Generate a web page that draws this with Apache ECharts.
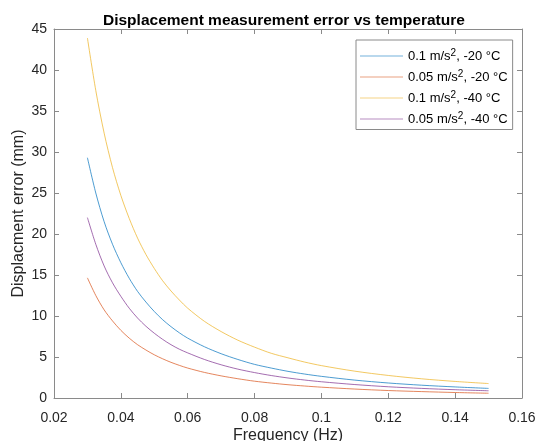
<!DOCTYPE html>
<html>
<head>
<meta charset="utf-8">
<script src="https://cdn.jsdelivr.net/npm/echarts@6/dist/echarts.min.js"></script>
<style>
html,body{margin:0;padding:0;background:#fff;}
#chart{width:536px;height:441px;}
</style>
</head>
<body>
<div id="chart"></div>
<script>
// Frequency (Hz)
const freq = [0.03, 0.0325, 0.035, 0.0375, 0.04, 0.0425, 0.045, 0.0475, 0.05, 0.0525, 0.055, 0.0575, 0.06,
              0.065, 0.07, 0.075, 0.08, 0.085, 0.09, 0.095, 0.10, 0.11, 0.12, 0.13, 0.14, 0.15];
// Displacement error (mm)
const blue20   = [29.3, 25.0, 21.5, 18.75, 16.5, 14.6, 13.0, 11.7, 10.55, 9.55, 8.7, 7.95, 7.3,
                  6.25, 5.4, 4.7, 4.1, 3.65, 3.25, 2.92, 2.64, 2.18, 1.83, 1.56, 1.35, 1.17];
const orange20 = [14.65, 12.5, 10.75, 9.4, 8.25, 7.3, 6.5, 5.85, 5.27, 4.78, 4.35, 3.98, 3.65,
                  3.12, 2.7, 2.35, 2.05, 1.82, 1.62, 1.46, 1.32, 1.09, 0.91, 0.78, 0.67, 0.58];
const yellow40 = [43.9, 37.5, 32.3, 28.1, 24.7, 21.9, 19.5, 17.5, 15.8, 14.3, 13.05, 11.95, 10.95,
                  9.35, 8.1, 7.05, 6.2, 5.45, 4.9, 4.38, 3.95, 3.27, 2.75, 2.34, 2.02, 1.76];
const purple40 = [22.0, 18.75, 16.1, 14.05, 12.4, 10.95, 9.75, 8.75, 7.9, 7.15, 6.5, 5.95, 5.5,
                  4.7, 4.05, 3.52, 3.1, 2.74, 2.44, 2.19, 1.98, 1.64, 1.37, 1.17, 1.01, 0.88];
const names = ['0.1 m/s², -20 °C', '0.05 m/s², -20 °C', '0.1 m/s², -40 °C', '0.05 m/s², -40 °C'];
const xTicks = [0.02, 0.04, 0.06, 0.08, 0.1, 0.12, 0.14, 0.16];
const yTicks = [0, 5, 10, 15, 20, 25, 30, 35, 40, 45];

const colors = ['#0072BD', '#D95319', '#EDB120', '#7E2F8E'];
const values = [blue20, orange20, yellow40, purple40];
const FONT = '"Liberation Sans", Arial, Helvetica, sans-serif';
const axisCol = '#8a8a8a';

const chart = echarts.init(document.getElementById('chart'), null, {renderer: 'canvas'});
const gridPos = {left: 54, right: 14, top: 29, bottom: 43, containLabel: false, outerBoundsMode: 'none'};

function baseAxis(extra) {
  return Object.assign({
    axisLine: {show: true, onZero: false, lineStyle: {color: axisCol, width: 1}},
    axisTick: {show: true, inside: true, length: 5, lineStyle: {color: axisCol}},
    splitLine: {show: false},
    axisLabel: {show: false}
  }, extra);
}

chart.setOption({
  animation: false,
  color: colors,
  title: {
    text: 'Displacement measurement error vs temperature',
    left: 98, top: 8,
    textStyle: {fontFamily: FONT, fontSize: 15.5, fontWeight: 'bold', color: '#000'}
  },
  grid: gridPos,
  legend: {
    orient: 'vertical',
    left: 356, top: 40,
    padding: [8, 5, 4, 4],
    borderColor: '#8a8a8a', borderWidth: 1,
    backgroundColor: '#fff',
    itemWidth: 43, itemHeight: 1, itemGap: 6.5,
    icon: 'rect',
    itemStyle: {opacity: 0.55},
    data: names,
    formatter: function (n) {
      const parts = n.split('²');
      return '{t|' + parts[0] + '}{s|2}{t|' + parts[1] + '}';
    },
    textStyle: {
      fontFamily: FONT, fontSize: 13, color: '#000',
      rich: {
        t: {fontFamily: FONT, fontSize: 13, color: '#000', lineHeight: 16},
        s: {fontFamily: FONT, fontSize: 10, color: '#000', verticalAlign: 'top', lineHeight: 10}
      }
    }
  },
  xAxis: [
    baseAxis({
      type: 'value', min: 0.02, max: 0.16, interval: 0.02, position: 'bottom',
      name: 'Frequency (Hz)', nameLocation: 'middle', nameGap: 30, nameMoveOverlap: false,
      nameTextStyle: {fontFamily: FONT, fontSize: 16, color: '#262626'},
      axisLabel: {show: true, fontFamily: FONT, fontSize: 14, color: '#262626', margin: 13,
        formatter: v => String(parseFloat(v.toFixed(2)))}
    }),
    baseAxis({type: 'value', min: 0.02, max: 0.16, interval: 0.02, position: 'top'})
  ],
  yAxis: [
    baseAxis({
      type: 'value', min: 0, max: 45, interval: 5, position: 'left',
      name: 'Displacment error (mm)', nameLocation: 'middle', nameGap: 27, nameMoveOverlap: false,
      nameTextStyle: {fontFamily: FONT, fontSize: 16, color: '#262626'},
      axisLabel: {show: true, fontFamily: FONT, fontSize: 14, color: '#262626', margin: 7}
    }),
    baseAxis({type: 'value', min: 0, max: 45, interval: 5, position: 'right'})
  ],
  series: names.map((n, i) => ({
    name: n,
    type: 'line',
    smooth: 0.3,
    showSymbol: false,
    symbol: 'none',
    xAxisIndex: 0, yAxisIndex: 0,
    lineStyle: {width: 1, color: colors[i], opacity: 0.7},
    itemStyle: {color: colors[i]},
    data: freq.map((f, j) => [f, values[i][j]])
  }))
});
</script>
</body>
</html>
